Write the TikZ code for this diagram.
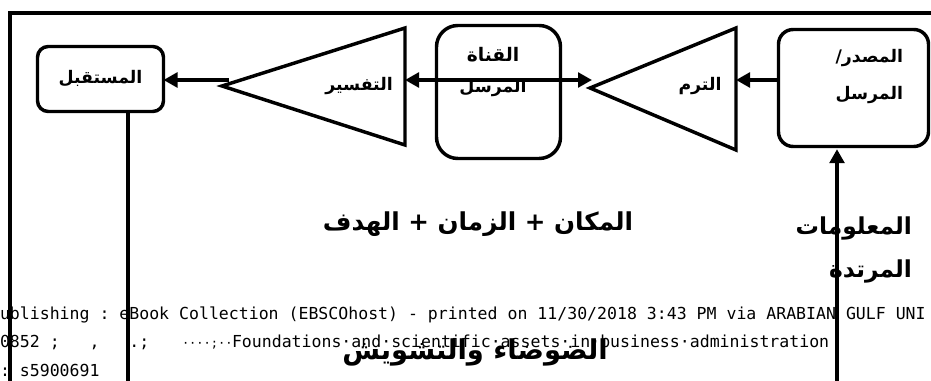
\documentclass[tikz,border=0pt]{standalone}
\usepackage{fontspec}
\setmonofont{DejaVu Sans Mono}
\newfontfamily\arabicfont[Script=Arabic]{DejaVu Sans}
\TeXXeTstate=1
\usetikzlibrary{arrows.meta}

\newcommand{\artext}[1]{\beginR #1\endR}

\begin{document}
\begin{tikzpicture}[x=0.75pt, y=-0.75pt,
  every node/.style={inner sep=0pt, outer sep=0pt},
  heavy/.style={line width=2.6pt, line join=miter},
  stage/.style={draw, line width=2.6pt, rounded corners=8pt},
  flow/.style={line width=2.6pt, -{Triangle[length=10.5pt, width=11pt]}},
  twoway/.style={line width=2.6pt, {Triangle[length=10.5pt, width=11pt]}-{Triangle[length=10.5pt, width=11pt]}},
  arlbl/.style={font=\arabicfont\bfseries\fontsize{13}{15}\selectfont},
  arbig/.style={font=\arabicfont\bfseries\fontsize{17.5}{20}\selectfont},
  wm/.style={font=\ttfamily\fontsize{12.4}{14}\selectfont, anchor=base west}]
\useasboundingbox (0,0) rectangle (931,381);
\clip (0,0) rectangle (931,381);
% watermark lines
\node[wm] (wmA) at (0,319) {ublishing : eBook Collection (EBSCOhost) - printed on 11/30/2018 3:43 PM via ARABIAN GULF UNI};
\node[wm] (wmB) at (0,347) {0852 ;\ \ \ ,\ \ \ .;};
\node[wm, font=\ttfamily\fontsize{9}{11}\selectfont] (wmBlead) at (182,347) {····;··};
\node[wm] (wmBtitle) at (232,347) {Foundations·and·scientific·assets·in·business·administration};
\node[wm] (wmC) at (0,376) {: s5900691};
% frame
\draw[heavy] (10,400) -- (10,13) -- (950,13);
% boxes
\node[stage, minimum width=94.5pt, minimum height=48.75pt, arlbl] (recv) at (100.5,79) {\artext{المستقبل}};
\node[stage, rounded corners=16pt, minimum width=93pt, minimum height=99.75pt] (chan) at (498.5,92) {};
\node[arlbl, font=\arabicfont\bfseries\fontsize{14}{16}\selectfont] (chanA) at (493,55) {\artext{القناة}};
\node[arlbl] (chanB) at (493,88) {\artext{المرسل}};
\node[stage, rounded corners=11pt, minimum width=112.5pt, minimum height=87.75pt] (src) at (853.5,88) {};
\node[arlbl, anchor=east] (srcA) at (903,58) {\artext{المصدر/}};
\node[arlbl, anchor=east] (srcB) at (903,95) {\artext{المرسل}};
% triangles
\draw[heavy] (222,86) -- (405,28) coordinate (interpR) -- (405,145) -- cycle;
\node[arlbl] (interp) at (359,86) {\artext{التفسير}};
\draw[heavy] (590,88) -- (736,28) coordinate (encR) -- (736,150) -- cycle;
\node[arlbl] (encode) at (700,86) {\artext{الترم}};
% connectors
\coordinate (interpout) at (229,80);
\coordinate (encin) at (592,80);
\coordinate (fbfoot) at (837,400);
\coordinate (recvfoot) at (128,400);
\draw[flow] (interpout) -- (interpout -| recv.east);
\draw[twoway] (interpR |- encin) -- (encin);
\draw[flow] (src.west |- encin) -- (encR |- encin);
\draw[flow, shorten >=2pt] (fbfoot) -- (fbfoot |- src.south);
\draw[heavy] (recvfoot |- recv.south) -- (recvfoot);
% context and noise
\node[arbig, font=\arabicfont\bfseries\fontsize{18.5}{20}\selectfont] (ctx) at (478,224) {\artext{المكان + الزمان + الهدف}};
\node[arbig, anchor=east] (fbA) at (912,228) {\artext{المعلومات}};
\node[arbig, anchor=east] (fbB) at (912,271) {\artext{المرتدة}};
\node[arbig, font=\arabicfont\bfseries\fontsize{20.5}{22}\selectfont] (noise) at (475,352) {\artext{الضوضاء والتشويش}};
\end{tikzpicture}
\end{document}
